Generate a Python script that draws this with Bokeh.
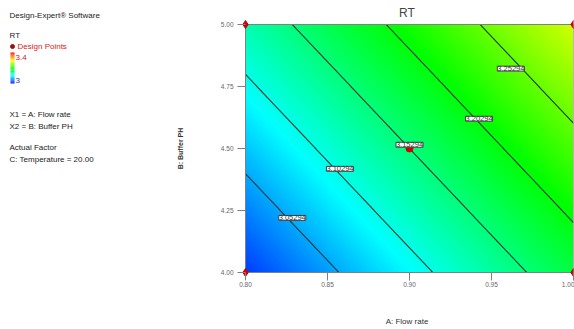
import numpy as np
from bokeh.plotting import figure
from bokeh.models import (Range1d, LinearColorMapper, FixedTicker, PrintfTickFormatter,
                          ColumnDataSource, LabelSet)
from bokeh.layouts import row
from bokeh.embed import file_html
from bokeh.resources import INLINE
from bokeh.core.properties import value

# ---------------- data ----------------
chart_title = "RT"
software_note = "Design-Expert\u00ae Software"
a_range = [0.80, 1.00]
b_range = [4.00, 5.00]
x_ticks = [0.80, 0.85, 0.90, 0.95, 1.00]
y_ticks = [4.00, 4.25, 4.50, 4.75, 5.00]
# fitted model in coded units (A: 0.8..1.0, B: 4.0..5.0)
intercept = 3.15294
coef_A = 0.0873
coef_B = 0.0624
contour_levels = [3.05294, 3.10294, 3.15294, 3.20294, 3.25294]
label_A = [0.8285, 0.8576, 0.9000, 0.9424, 0.9618]
label_B = [4.220, 4.418, 4.515, 4.620, 4.822]
corner_A = [0.80, 0.80, 1.00, 1.00]
corner_B = [4.00, 5.00, 4.00, 5.00]
center_A = [0.90]
center_B = [4.50]
legend_low, legend_high = 3.0, 3.4
surface_low, surface_high = 2.975, 3.44

FONT = "Liberation Sans"
W, H = 574, 329
LW = 173
TOP, BOTTOM = 19, 52
PAD = 5                    # px of white space around the data region
FRAME_W = W - LW - 67 - 1  # main frame width in px
FRAME_H = H - TOP - BOTTOM

# palette blue-cyan-green-yellow-red
stops = [(0, 0, 255), (0, 255, 255), (0, 255, 0), (255, 255, 0), (255, 0, 0)]
palette = []
for i in range(256):
    t = i / 255 * (len(stops) - 1)
    k = min(int(t), len(stops) - 2)
    f = t - k
    c = [round(stops[k][j] + (stops[k + 1][j] - stops[k][j]) * f) for j in range(3)]
    palette.append("#%02x%02x%02x" % tuple(c))
mapper = LinearColorMapper(palette=palette, low=surface_low, high=surface_high)

# response surface grid from the model
nA, nB = 330, 248
A = np.linspace(a_range[0], a_range[1], nA)
B = np.linspace(b_range[0], b_range[1], nB)
AA, BB = np.meshgrid(A, B)
Z = intercept + coef_A * (AA - 0.9) / 0.1 + coef_B * (BB - 4.5) / 0.5

# ---------------- left panel ----------------
left = figure(width=LW, height=H, x_range=Range1d(0, LW), y_range=Range1d(BOTTOM, H - TOP),
              toolbar_location=None, output_backend="svg", title=software_note,
              min_border_left=0, min_border_right=0, min_border_top=TOP, min_border_bottom=BOTTOM)
left.axis.visible = False
left.grid.visible = False
left.outline_line_color = None
left.title.text_font = FONT
left.title.text_font_size = "8px"
left.title.text_font_style = "normal"
left.title.text_color = "#222222"
left.title.align = "left"
left.title.offset = 9
left.title.standoff = 0

def Y(py):
    return H - py

txt = ["RT", "Design Points", "3.4", "3",
       "X1 = A: Flow rate", "X2 = B: Buffer PH", "Actual Factor", "C: Temperature = 20.00"]
tx = [9, 17, 15, 15, 9, 9, 9, 9]
ty = [Y(35), Y(46), Y(57), Y(80), Y(114), Y(126), Y(147), Y(159)]
tc = ["#222222", "#e02020", "#d02020", "#2030d0", "#222222", "#222222", "#222222", "#222222"]
left.text(x=tx, y=ty, text=txt, text_color=tc, text_font=value(FONT),
          text_font_size="8px", text_baseline="middle", text_align="left")
left.scatter(x=[12], y=[Y(46)], size=4, color="#a01010")
nb = 40
vals = np.linspace(legend_low, legend_high, nb)
bot = np.linspace(Y(83), Y(52), nb + 1)
cols = [palette[int(round((v - legend_low) / (legend_high - legend_low) * 255))] for v in vals]
left.quad(left=10, right=14, bottom=bot[:-1], top=bot[1:], fill_color=cols, line_color=None)

# ---------------- main plot ----------------
xpx = (a_range[1] - a_range[0]) / (FRAME_W - PAD)
ypx = (b_range[1] - b_range[0]) / (FRAME_H - 2 * PAD)
p = figure(width=W - LW, height=H,
           x_range=Range1d(a_range[0] - PAD * xpx, a_range[1]),
           y_range=Range1d(b_range[0] - PAD * ypx, b_range[1] + PAD * ypx),
           toolbar_location=None, output_backend="svg",
           min_border_left=67, min_border_right=1, min_border_top=TOP, min_border_bottom=BOTTOM,
           title=chart_title)
p.title.align = "center"
p.title.text_font = FONT
p.title.text_font_size = "12px"
p.title.text_font_style = "normal"
p.title.standoff = 0
p.grid.visible = False
p.outline_line_color = None

p.image(image=[Z], x=a_range[0], y=b_range[0], dw=a_range[1] - a_range[0],
        dh=b_range[1] - b_range[0], color_mapper=mapper)
p.contour(A, B, Z, levels=contour_levels, line_color="#1c3530", line_width=1.1, fill_color=None)
p.quad(left=a_range[0], right=a_range[1], bottom=b_range[0], top=b_range[1],
       fill_color=None, line_color="#808080", line_width=1)

src = ColumnDataSource(dict(x=label_A, y=label_B, t=["%.5f" % l for l in contour_levels]))
p.add_layout(LabelSet(x="x", y="y", text="t", source=src, text_font=value(FONT),
                      text_font_size="7.5px", text_align="center", text_baseline="middle",
                      text_color="#333333",
                      background_fill_color="white", border_line_color="#444444"))

p.scatter(center_A, center_B, marker="circle", size=7, color="#d00000")
p.scatter(corner_A, corner_B, marker="diamond", size=8, color="#d00000")

for ax in (p.xaxis[0], p.yaxis[0]):
    ax.axis_line_color = None
    ax.major_tick_line_color = "#808080"
    ax.minor_tick_line_color = None
    ax.major_tick_in = PAD
    ax.major_tick_out = 3
    ax.major_label_text_font = FONT
    ax.major_label_text_font_size = "6.5px"
    ax.major_label_text_color = "#666666"
    ax.axis_label_text_font = FONT
    ax.axis_label_text_color = "#333333"
    ax.formatter = PrintfTickFormatter(format="%.2f")

p.xaxis.ticker = FixedTicker(ticks=x_ticks)
p.yaxis.ticker = FixedTicker(ticks=y_ticks)
p.xaxis.major_label_standoff = 1
p.yaxis.major_label_standoff = 4
p.xaxis.axis_label = "A: Flow rate"
p.xaxis.axis_label_text_font_size = "8px"
p.xaxis.axis_label_text_font_style = "normal"
p.xaxis.axis_label_standoff = 27
p.yaxis.axis_label = "B: Buffer PH"
p.yaxis.axis_label_text_font_size = "7px"
p.yaxis.axis_label_text_font_style = "bold"
p.yaxis.axis_label_standoff = 34

layout = row(left, p)
open("out.html", "w").write(file_html(layout, INLINE))
